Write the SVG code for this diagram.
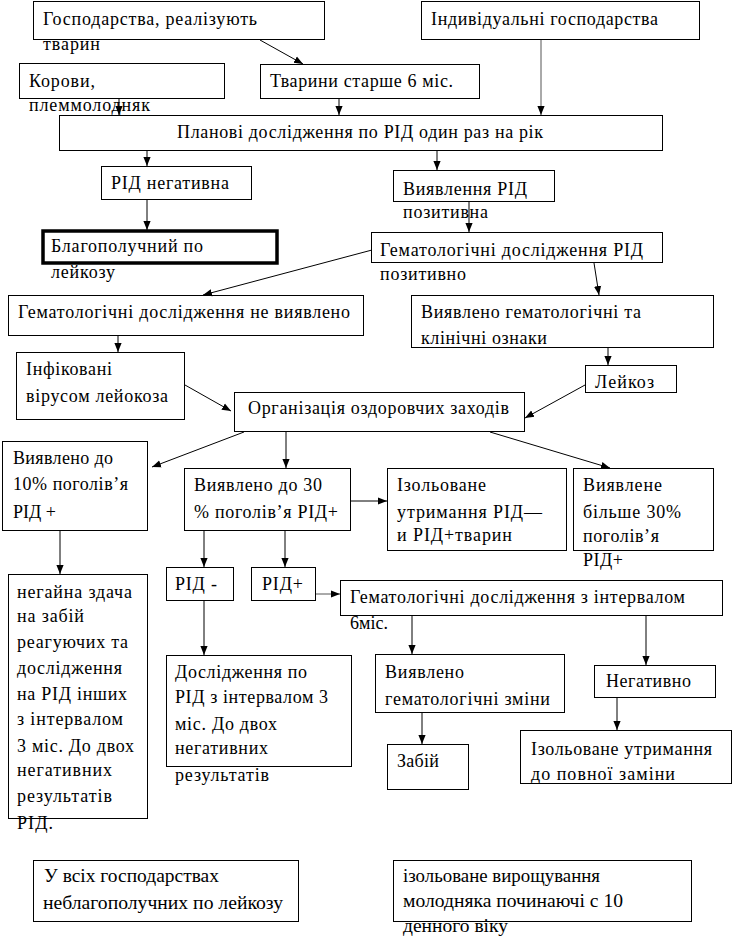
<svg xmlns="http://www.w3.org/2000/svg" width="733" height="939" viewBox="0 0 733 939">
<style>
rect{fill:#fff;stroke:#000;stroke-width:1}
.thick{stroke-width:3.5}
text{font-family:'Liberation Serif','Times New Roman',serif;font-size:18px;fill:#000}
.n{font-size:18.5px}
#conn line{stroke:#000;stroke-width:1;marker-end:url(#ah)}
#conn line.g{stroke:#555}
</style>
<defs>
<marker id="ah" viewBox="0 0 10 10" refX="10" refY="5" markerWidth="9" markerHeight="9" markerUnits="userSpaceOnUse" orient="auto">
<path d="M0,1 L10,5 L0,9 Z" fill="#000"/>
</marker>
</defs>
<rect width="733" height="939" style="stroke:none"/>

<g id="n1"><rect x="33.5" y="1.5" width="291" height="38"/><text x="43" y="25" textLength="214" lengthAdjust="spacing">Господарства, реалізують</text><text x="43" y="50" textLength="57" lengthAdjust="spacing">тварин</text></g>
<g id="n2"><rect x="421.5" y="1.5" width="278" height="38"/><text x="431" y="25" textLength="227" lengthAdjust="spacing">Індивідуальні господарства</text></g>
<g id="n3"><rect x="19.5" y="63.5" width="205" height="35"/><text x="29" y="87" textLength="66" lengthAdjust="spacing">Корови,</text><text x="29" y="111" textLength="121" lengthAdjust="spacing">племмолодняк</text></g>
<g id="n4"><rect x="260.5" y="64.5" width="219" height="34"/><text x="270" y="87" textLength="183" lengthAdjust="spacing">Тварини старше 6 міс.</text></g>
<g id="n5"><rect x="59.5" y="115.5" width="603" height="35"/><text x="177" y="138" textLength="366" lengthAdjust="spacing">Планові дослідження по РІД один раз на рік</text></g>
<g id="n6"><rect x="101.5" y="166.5" width="150" height="33"/><text x="111" y="189" textLength="118" lengthAdjust="spacing">РІД негативна</text></g>
<g id="n7"><rect x="393.5" y="170.5" width="161" height="31"/><text x="403" y="195" textLength="124" lengthAdjust="spacing">Виявлення РІД</text><text x="403" y="218" textLength="85" lengthAdjust="spacing">позитивна</text></g>
<g id="n8"><rect class="thick" x="43" y="231" width="234" height="32"/><text x="51" y="252" textLength="152" lengthAdjust="spacing">Благополучний по</text><text x="51" y="278" textLength="64" lengthAdjust="spacing">лейкозу</text></g>
<g id="n9"><rect x="371.5" y="232.5" width="291" height="30"/><text x="380" y="256" textLength="263" lengthAdjust="spacing">Гематологічні дослідження РІД</text><text x="380" y="280" textLength="86" lengthAdjust="spacing">позитивно</text></g>
<g id="n10"><rect x="8.5" y="295.5" width="355" height="40"/><text x="18" y="318" textLength="332" lengthAdjust="spacing">Гематологічні дослідження не виявлено</text></g>
<g id="n11"><rect x="411.5" y="295.5" width="302" height="52"/><text x="421" y="318" textLength="220" lengthAdjust="spacing">Виявлено гематологічні та</text><text x="421" y="344" textLength="126" lengthAdjust="spacing">клінічні ознаки</text></g>
<g id="n12"><rect x="16.5" y="352.5" width="168" height="67"/><text x="26" y="375" textLength="86" lengthAdjust="spacing">Інфіковані</text><text x="26" y="402" textLength="142" lengthAdjust="spacing">вірусом лейокоза</text></g>
<g id="n13"><rect x="585.5" y="365.5" width="91" height="27"/><text x="595" y="388" textLength="59" lengthAdjust="spacing">Лейкоз</text></g>
<g id="n14"><rect x="234.5" y="392.5" width="290" height="39"/><text x="248" y="414" textLength="261" lengthAdjust="spacing">Організація оздоровчих заходів</text></g>
<g id="n15"><rect x="2.5" y="441.5" width="145" height="89"/><text x="13" y="464" textLength="100" lengthAdjust="spacing">Виявлено до</text><text x="13" y="490" textLength="115" lengthAdjust="spacing">10% поголів’я</text><text x="13" y="518" textLength="43" lengthAdjust="spacing">РІД +</text></g>
<g id="n16"><rect x="184.5" y="468.5" width="166" height="62"/><text x="194" y="491" textLength="128" lengthAdjust="spacing">Виявлено до 30</text><text x="194" y="518" textLength="144" lengthAdjust="spacing">% поголів’я РІД+</text></g>
<g id="n17"><rect x="387.5" y="468.5" width="179" height="82"/><text x="397" y="491" textLength="89" lengthAdjust="spacing">Ізольоване</text><text x="397" y="518" textLength="145" lengthAdjust="spacing">утримання РІД—</text><text x="397" y="541" textLength="115" lengthAdjust="spacing">и РІД+тварин</text></g>
<g id="n18"><rect x="573.5" y="468.5" width="140" height="82"/><text x="583" y="491" textLength="79" lengthAdjust="spacing">Виявлене</text><text x="583" y="518" textLength="98" lengthAdjust="spacing">більше 30%</text><text x="583" y="542" textLength="76" lengthAdjust="spacing">поголів’я</text><text x="583" y="566" textLength="40" lengthAdjust="spacing">РІД+</text></g>
<g id="n19"><rect x="8.5" y="574.5" width="139" height="244"/>
<text x="17" y="598" textLength="115" lengthAdjust="spacing">негайна здача</text><text x="17" y="622" textLength="67" lengthAdjust="spacing">на забій</text><text x="17" y="648" textLength="111" lengthAdjust="spacing">реагуючих та</text><text x="17" y="674" textLength="105" lengthAdjust="spacing">дослідження</text><text x="17" y="700" textLength="110" lengthAdjust="spacing">на РІД інших</text><text x="17" y="725" textLength="106" lengthAdjust="spacing">з інтервалом</text><text x="17" y="752" textLength="117" lengthAdjust="spacing">3 міс. До двох</text><text x="17" y="776" textLength="95" lengthAdjust="spacing">негативних</text><text x="17" y="802" textLength="95" lengthAdjust="spacing">результатів</text><text x="17" y="829" textLength="36" lengthAdjust="spacing">РІД.</text></g>
<g id="n20"><rect x="166.5" y="567.5" width="67" height="33"/><text x="175" y="590" textLength="42" lengthAdjust="spacing">РІД -</text></g>
<g id="n21"><rect x="251.5" y="567.5" width="64" height="33"/><text x="262" y="590" textLength="41" lengthAdjust="spacing">РІД+</text></g>
<g id="n22"><rect x="340.5" y="580.5" width="382" height="35"/><text x="350" y="603" textLength="335" lengthAdjust="spacing">Гематологічні дослідження з інтервалом</text><text x="350" y="629" textLength="38" lengthAdjust="spacing">6міс.</text></g>
<g id="n23"><rect x="166.5" y="655.5" width="185" height="111"/><text x="175" y="678" textLength="132" lengthAdjust="spacing">Дослідження по</text><text x="175" y="703" textLength="153" lengthAdjust="spacing">РІД з інтервалом 3</text><text x="175" y="730" textLength="102" lengthAdjust="spacing">міс. До двох</text><text x="175" y="754" textLength="93" lengthAdjust="spacing">негативних</text><text x="175" y="781" textLength="94" lengthAdjust="spacing">результатів</text></g>
<g id="n24"><rect x="375.5" y="654.5" width="189" height="58"/><text x="385" y="678" textLength="79" lengthAdjust="spacing">Виявлено</text><text x="385" y="705" textLength="165" lengthAdjust="spacing">гематологічні зміни</text></g>
<g id="n25"><rect x="594.5" y="665.5" width="121" height="32"/><text x="606" y="687" textLength="85" lengthAdjust="spacing">Негативно</text></g>
<g id="n26"><rect x="387.5" y="744.5" width="81" height="45"/><text x="397" y="767" textLength="42" lengthAdjust="spacing">Забій</text></g>
<g id="n27"><rect x="520.5" y="730.5" width="211" height="53"/><text x="531" y="755" textLength="181" lengthAdjust="spacing">Ізольоване утримання</text><text x="531" y="780" textLength="144" lengthAdjust="spacing">до повної заміни</text></g>
<g id="n28"><rect x="33.5" y="860.5" width="265" height="61"/><text class="n" x="44" y="882" textLength="175" lengthAdjust="spacingAndGlyphs">У всіх господарствах</text><text class="n" x="43" y="909" textLength="240" lengthAdjust="spacingAndGlyphs">неблагополучних по лейкозу</text></g>
<g id="n29"><rect x="393.5" y="860.5" width="298" height="61"/><text class="n" x="403" y="882" textLength="197" lengthAdjust="spacingAndGlyphs">ізольоване вирощування</text><text class="n" x="403" y="907" textLength="220" lengthAdjust="spacingAndGlyphs">молодняка починаючі с 10</text><text class="n" x="403" y="932" textLength="105" lengthAdjust="spacingAndGlyphs">денного віку</text></g>

<g id="conn">
<line x1="260" y1="40" x2="303" y2="64"/>
<line class="g" x1="541" y1="40" x2="541" y2="115"/>
<line x1="119" y1="99" x2="119" y2="115"/>
<line x1="339" y1="99" x2="339" y2="115"/>
<line x1="147" y1="151" x2="147" y2="166"/>
<line x1="437" y1="151" x2="437" y2="170"/>
<line x1="147" y1="200" x2="147" y2="230"/>
<line x1="469" y1="202" x2="469" y2="232"/>
<line x1="372" y1="250" x2="203" y2="295"/>
<line x1="594" y1="263" x2="599" y2="295"/>
<line x1="118" y1="336" x2="118" y2="352"/>
<line x1="608" y1="348" x2="608" y2="365"/>
<line x1="185" y1="385" x2="231" y2="411"/>
<line x1="585" y1="385" x2="525" y2="418"/>
<line x1="244" y1="432" x2="152" y2="467"/>
<line x1="286" y1="432" x2="286" y2="468"/>
<line x1="490" y1="432" x2="610" y2="468"/>
<line x1="351" y1="501" x2="387" y2="501"/>
<line x1="60" y1="531" x2="60" y2="574"/>
<line x1="204" y1="531" x2="204" y2="567"/>
<line x1="285" y1="531" x2="285" y2="567"/>
<line class="g" x1="316" y1="594" x2="340" y2="594"/>
<line x1="204" y1="601" x2="204" y2="655"/>
<line x1="412" y1="616" x2="412" y2="654"/>
<line x1="646" y1="616" x2="646" y2="665"/>
<line x1="422" y1="713" x2="422" y2="744"/>
<line x1="617" y1="698" x2="617" y2="730"/>
</g>
</svg>
